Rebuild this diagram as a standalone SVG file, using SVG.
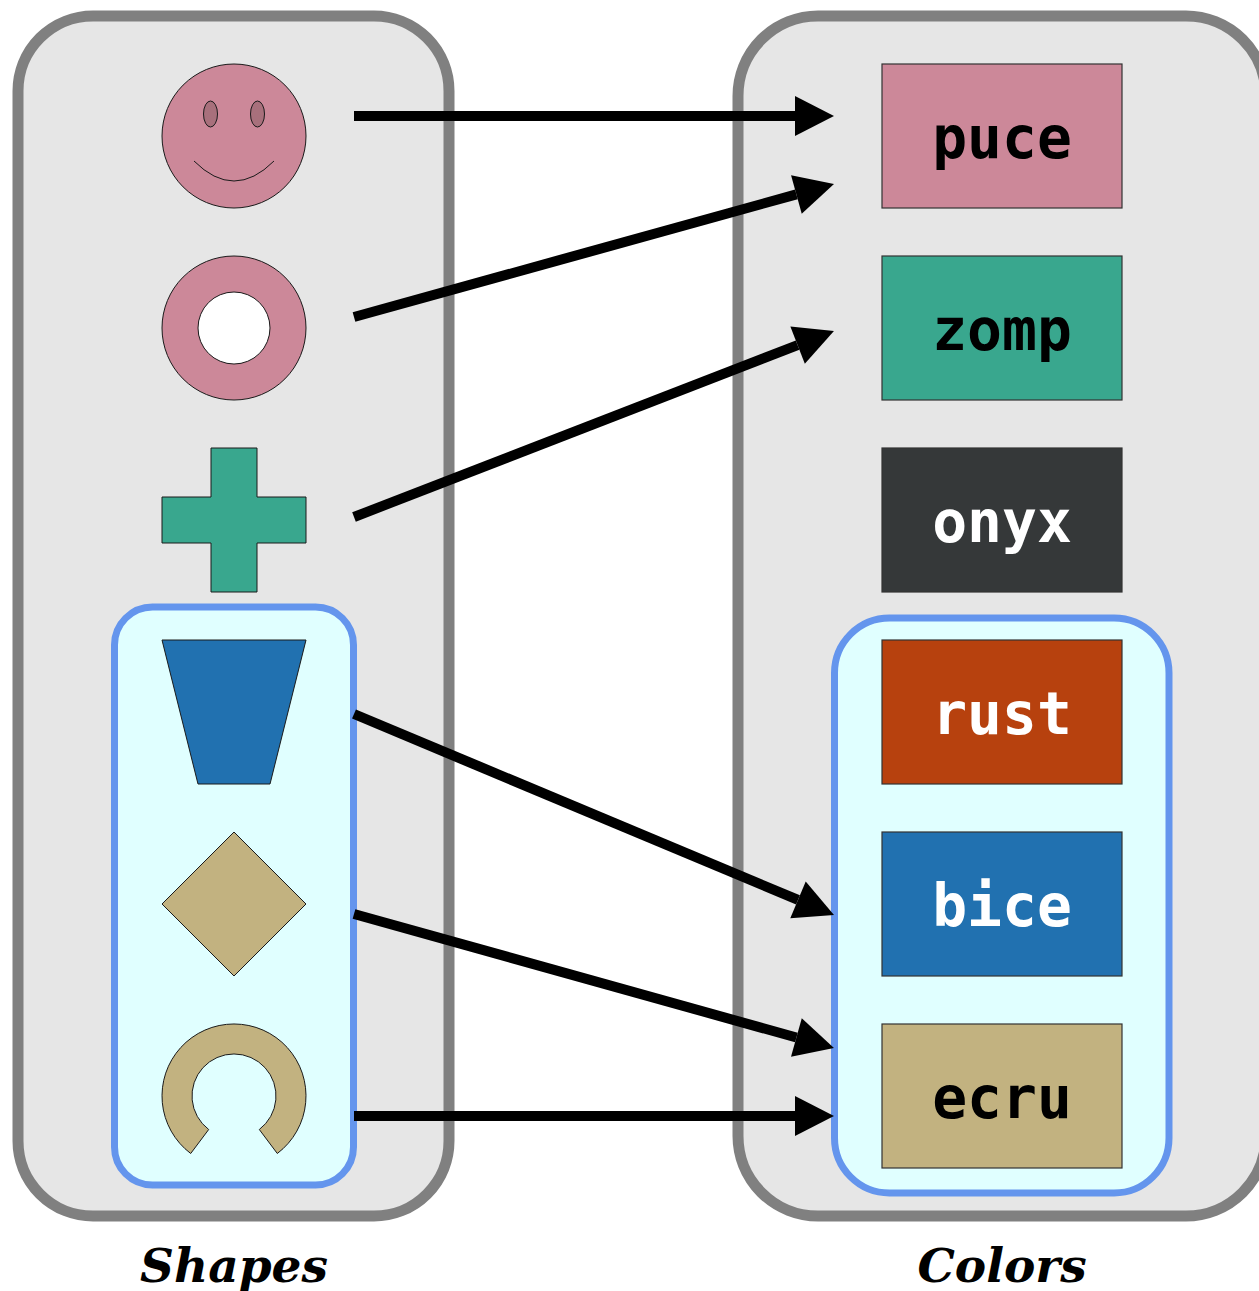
<svg xmlns="http://www.w3.org/2000/svg" width="1259" height="1291" viewBox="0 0 1259 1291">
<style>
.outer{fill:#e6e6e6;stroke:#808080;stroke-width:11}
.inner{fill:#e0ffff;stroke:#6495ed;stroke-width:7}
.shp{stroke:#1a1a1a;stroke-width:1}
.sw{stroke:#333;stroke-width:1.2}
.lbl{font-family:"DejaVu Sans Mono","Liberation Mono",monospace;font-weight:bold;font-size:58px;text-anchor:middle}
.title{font-family:"DejaVu Serif","Liberation Serif",serif;font-weight:bold;font-style:italic;font-size:47px;text-anchor:middle;fill:#000}
.conn{stroke:#000;stroke-width:10;fill:none;marker-end:url(#ah)}
</style>
<defs>
<marker id="ah" markerUnits="strokeWidth" markerWidth="4" markerHeight="4" refX="0" refY="2" orient="auto" overflow="visible">
<path d="M0,0 L3.9,2 L0,4 z" fill="#000"/>
</marker>
</defs>
<g id="shapes-cluster">
<rect class="outer" x="18" y="16" width="431" height="1200" rx="75" ry="75"/>
<rect class="inner" x="114.5" y="607" width="239" height="578" rx="38" ry="38"/>
<text class="title" x="234" y="1282">Shapes</text>
</g>
<g id="colors-cluster">
<rect class="outer" x="738" y="16" width="528" height="1200" rx="80" ry="80"/>
<rect class="inner" x="834.5" y="618" width="334.5" height="575" rx="55" ry="55"/>
<text class="title" x="1002" y="1282">Colors</text>
</g>
<g id="smiley">
<circle class="shp" cx="234" cy="136" r="72" fill="#cc8899"/>
<ellipse class="shp" cx="210.5" cy="114" rx="7" ry="13" fill="#a8707c"/>
<ellipse class="shp" cx="257.5" cy="114" rx="7" ry="13" fill="#a8707c"/>
<path d="M194,161 Q234,201 274,161" fill="none" stroke="#1a1a1a" stroke-width="1"/>
</g>
<g id="ring">
<circle class="shp" cx="234" cy="328" r="72" fill="#cc8899"/>
<circle class="shp" cx="234" cy="328" r="36" fill="#ffffff"/>
</g>
<g id="plus">
<path class="shp" d="M211,448 H257 V497 H306 V543 H257 V592 H211 V543 H162 V497 H211 Z" fill="#39a78e"/>
</g>
<g id="trapezoid">
<path class="shp" d="M162,640 H306 L270,784 H198 Z" fill="#2171b0"/>
</g>
<g id="diamond">
<path class="shp" d="M234,832 L306,904 L234,976 L162,904 Z" fill="#c2b280"/>
</g>
<g id="arc">
<path class="shp" d="M190.7,1153.5 A72,72 0 1 1 277.3,1153.5 L259.3,1129.5 A42,42 0 1 0 208.7,1129.5 Z" fill="#c2b280"/>
</g>
<g id="puce">
<rect class="sw" x="882" y="64" width="240" height="144" fill="#cc8899"/>
<text class="lbl" x="1002" y="158" fill="#000">puce</text>
</g>
<g id="zomp">
<rect class="sw" x="882" y="256" width="240" height="144" fill="#39a78e"/>
<text class="lbl" x="1002" y="350" fill="#000">zomp</text>
</g>
<g id="onyx">
<rect class="sw" x="882" y="448" width="240" height="144" fill="#353839"/>
<text class="lbl" x="1002" y="542" fill="#fff">onyx</text>
</g>
<g id="rust">
<rect class="sw" x="882" y="640" width="240" height="144" fill="#b7410e"/>
<text class="lbl" x="1002" y="734" fill="#fff">rust</text>
</g>
<g id="bice">
<rect class="sw" x="882" y="832" width="240" height="144" fill="#2171b0"/>
<text class="lbl" x="1002" y="926" fill="#fff">bice</text>
</g>
<g id="ecru">
<rect class="sw" x="882" y="1024" width="240" height="144" fill="#c2b280"/>
<text class="lbl" x="1002" y="1118" fill="#000">ecru</text>
</g>
<g id="connectors">
<path class="conn" d="M354,116 L795,116"/>
<path class="conn" d="M354,317 L796.4,194.4"/>
<path class="conn" d="M354,517 L797.6,345.1"/>
<path class="conn" d="M354,714 L798,899.9"/>
<path class="conn" d="M354,914 L796.4,1037.5"/>
<path class="conn" d="M354,1116 L795,1116"/>
</g>
</svg>
